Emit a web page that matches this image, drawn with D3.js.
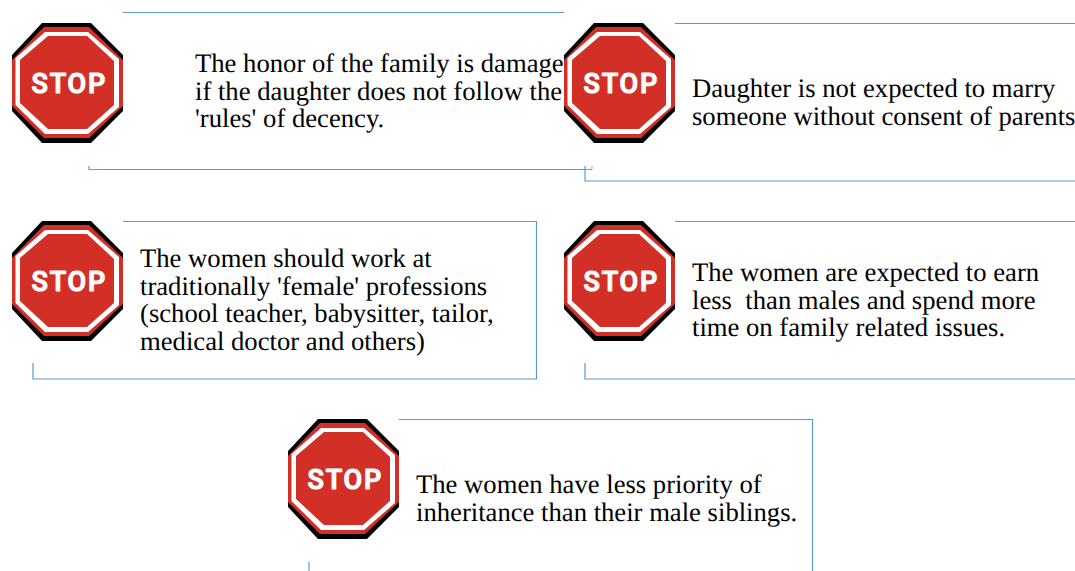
<!DOCTYPE html>
<html>

<head>
	<meta charset="utf-8">
	<title>Stop signs</title>
	<script src="https://d3js.org/d3.v7.min.js"></script>
	<style>
		body { margin: 0; background: #fff; }
		svg { display: block; }
	</style>
</head>

<body>
	<script>
		// The five messages, one array of lines per sign
		const messages = [
			["The honor of the family is damage", "if the daughter does not follow the", "'rules' of decency."],
			["Daughter is not expected to marry", "someone without consent of parents"],
			["The women should work at", "traditionally 'female' professions", "(school teacher, babysitter, tailor,", "medical doctor and others)"],
			["The women are expected to earn", "less  than males and spend more", "time on family related issues."],
			["The women have less priority of", "inheritance than their male siblings."]
		];
		const signLabel = "STOP";

		// Layout of each panel, same order as messages
		const signX = [12, 564, 12, 564, 288];
		const signY = [23, 23, 221, 221, 419];
		const textX = [195, 692, 140, 692, 416];
		const textY = [72, 97, 267, 281, 493];

		// Frame pieces around the text, one list of polylines per panel
		const frames = [
			[[[123, 12.5], [564, 12.5]], [[89, 166], [89, 169.5], [592, 169.5]]],
			[[[675, 23.5], [1075, 23.5]], [[585, 166], [585, 181], [1075, 181]]],
			[[[123, 221.5], [536.5, 221.5], [536.5, 379], [33, 379], [33, 363]]],
			[[[675, 221.5], [1075, 221.5]], [[585, 363], [585, 379], [1075, 379]]],
			[[[399, 419.5], [812.5, 419.5], [812.5, 571]], [[309, 562], [309, 571]]]
		];
		// Pale stub left at the end of the first frame
		const stub = [[592, 166], [592, 169]];

		// Octagons relative to the sign's top left corner
		const octagons = [
			{ fill: "#000000", pts: [[30, 0], [79, 0], [111, 32], [111, 88], [79, 120], [30, 120], [0, 88], [0, 32]] },
			{ fill: "#d22f27", pts: [[32, 4], [77, 4], [111, 37], [111, 83], [77, 115], [32, 115], [0, 83], [0, 37]] },
			{ fill: "#ffffff", pts: [[33, 9], [76, 9], [107, 36], [107, 84], [76, 111], [33, 111], [3.5, 82], [3.5, 35]] },
			{ fill: "#d22f27", pts: [[36, 13], [75, 13], [102, 38], [102, 82], [75, 106], [36, 106], [8, 80], [8, 37]] }
		];

		const width = 1075;
		const height = 571;

		const svg = d3.select("body")
			.append("svg")
			.attr("width", width)
			.attr("height", height);

		const line = d3.line();

		// Frames go under the signs
		svg.append("g")
			.selectAll("path")
			.data(frames.flat())
			.enter()
			.append("path")
			.attr("d", d => line(d))
			.attr("fill", "none")
			.attr("stroke", "#5b9bd5")
			.attr("stroke-width", 1.2);

		svg.append("path")
			.attr("d", line(stub))
			.attr("fill", "none")
			.attr("stroke", "#5b9bd5")
			.attr("stroke-opacity", 0.5)
			.attr("stroke-width", 1.5);

		const signs = svg.selectAll("g.sign")
			.data(messages)
			.enter()
			.append("g")
			.attr("class", "sign")
			.attr("transform", (d, i) => `translate(${signX[i]}, ${signY[i]})`);

		signs.selectAll("path")
			.data(octagons)
			.enter()
			.append("path")
			.attr("d", d => line(d.pts) + "Z")
			.attr("fill", d => d.fill);

		signs.append("text")
			.attr("x", 19.5)
			.attr("y", 69.6)
			.attr("font-family", "Roboto, sans-serif")
			.attr("font-weight", 500)
			.attr("font-size", 27)
			.attr("letter-spacing", 1.8)
			.attr("fill", "#fff")
			.attr("stroke", "#fff")
			.attr("stroke-width", 1.2)
			.attr("stroke-linejoin", "round")
			.text(signLabel);

		// Message text
		svg.selectAll("text.message")
			.data(messages)
			.enter()
			.append("text")
			.attr("class", "message")
			.attr("font-family", "'Liberation Serif', serif")
			.attr("font-size", 26.67)
			.attr("text-rendering", "geometricPrecision")
			.attr("fill", "#000")
			.style("white-space", "pre")
			.each(function (d, i) {
				d3.select(this).selectAll("tspan")
					.data(d)
					.enter()
					.append("tspan")
					.attr("x", textX[i])
					.attr("y", (l, j) => textY[i] + j * 27.6)
					.text(l => l);
			});
	</script>
</body>

</html>
